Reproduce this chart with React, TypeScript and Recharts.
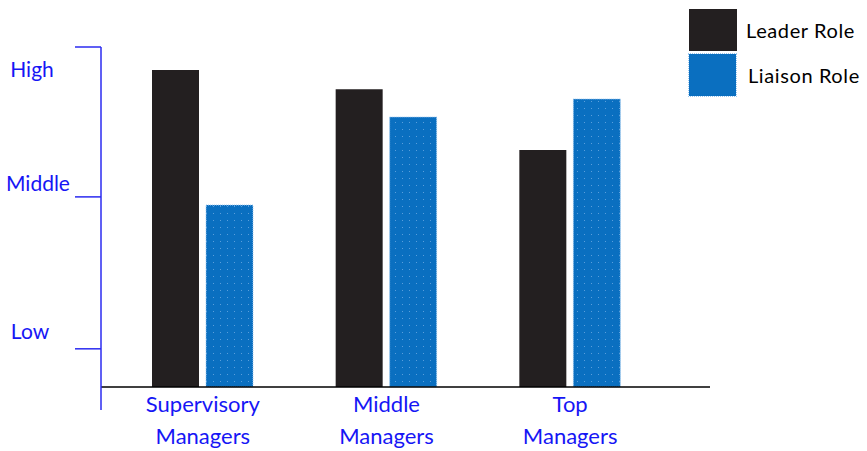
import { BarChart, Bar, XAxis, YAxis, ReferenceLine } from 'recharts'

const categories = ['Supervisory Managers', 'Middle Managers', 'Top Managers']
const leaderRole = [93.2, 87.6, 69.7]
const liaisonRole = [53.5, 79.4, 84.7]
const levelTicks = [11.2, 55.9, 100]
const levelLabels = ['Low', 'Middle', 'High']

const data = categories.map((name, i) => ({
    name,
    leader: leaderRole[i],
    liaison: liaisonRole[i],
}))

const BLUE_TEXT = '#1616f5'
const AXIS_BLUE = '#2b2bf0'
const FONT = 'Lato, "Open Sans", sans-serif'

// label sits a bit off its tick line in the original
const labelShift: Record<string, { dx: number; dy: number }> = {
    High: { dx: -61, dy: 21 },
    Middle: { dx: -55, dy: -14 },
    Low: { dx: -63, dy: -18 },
}

function LevelTick({ x, y, payload }: any) {
    const i = levelTicks.indexOf(payload.value)
    const label = levelLabels[i] ?? ''
    const s = labelShift[label] ?? { dx: 0, dy: 0 }
    return (
        <g>
            <line x1={x - 18} x2={x + 8} y1={y} y2={y} stroke={AXIS_BLUE} strokeWidth={1.5} />
            <text
                x={x + s.dx}
                y={y + s.dy}
                fill={BLUE_TEXT}
                fontSize={21}
                fontFamily={FONT}
                textAnchor="middle"
                dominantBaseline="central"
            >
                {label}
            </text>
        </g>
    )
}

function CategoryTick({ x, y, payload }: any) {
    const [first, second] = String(payload.value).split(' ')
    return (
        <text x={x} y={y} fill={BLUE_TEXT} fontSize={22} fontFamily={FONT} textAnchor="middle">
            <tspan x={x} dy={0}>{first}</tspan>
            <tspan x={x} dy={32}>{second}</tspan>
        </text>
    )
}

function RoleLegend() {
    return (
        <div style={{ position: 'absolute', top: 7, left: 689, fontFamily: FONT, fontSize: 20, letterSpacing: 0.6, color: '#000' }}>
            <div style={{ display: 'flex', alignItems: 'center', height: 45 }}>
                <div style={{ width: 48, height: 42, background: '#231f20' }} />
                <span style={{ marginLeft: 9 }}>Leader Role</span>
            </div>
            <div style={{ display: 'flex', alignItems: 'center', height: 45 }}>
                <div style={{ width: 47, height: 42, background: '#0a6fc0', outline: '1px dotted #9cc8f0' }} />
                <span style={{ marginLeft: 12 }}>Liaison Role</span>
            </div>
        </div>
    )
}

export default function App() {
    return (
        <div style={{ position: 'absolute', top: 0, left: 0, width: 867, height: 451, background: '#fff' }}>
            <BarChart
                width={867}
                height={451}
                data={data}
                margin={{ top: 47, right: 157, left: 0, bottom: 11 }}
                barSize={47}
                barGap={7}
            >
                <defs>
                    <pattern id="liaisonDots" width="7" height="7" patternUnits="userSpaceOnUse">
                        <rect width="7" height="7" fill="#0a6fc0" />
                        <rect x="3" y="3" width="1" height="1" fill="#5a9fdc" />
                    </pattern>
                </defs>
                <XAxis
                    dataKey="name"
                    height={30}
                    axisLine={false}
                    tickLine={false}
                    tickSize={0}
                    padding={{ left: 10, right: 48 }}
                    tick={<CategoryTick />}
                    interval={0}
                />
                <YAxis
                    type="number"
                    domain={[-6.8, 100]}
                    ticks={levelTicks}
                    width={101}
                    axisLine={{ stroke: AXIS_BLUE, strokeWidth: 1.5 }}
                    tickLine={false}
                    tick={<LevelTick />}
                    interval={0}
                />
                <Bar dataKey="leader" name="Leader Role" fill="#231f20" isAnimationActive={false} />
                <Bar
                    dataKey="liaison"
                    name="Liaison Role"
                    fill="url(#liaisonDots)"
                    stroke="#9cc8f0"
                    strokeDasharray="1 1"
                    isAnimationActive={false}
                />
                <ReferenceLine y={0} stroke="#000" strokeWidth={1.5} />
            </BarChart>
            <RoleLegend />
        </div>
    )
}
